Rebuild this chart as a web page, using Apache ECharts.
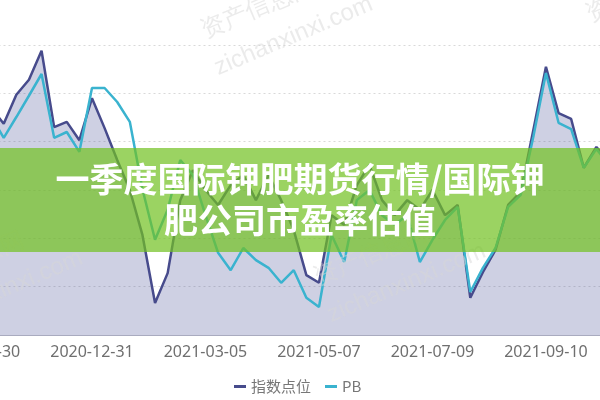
<!DOCTYPE html>
<html><head><meta charset="utf-8">
<script src="https://cdn.jsdelivr.net/npm/echarts@6/dist/echarts.min.js"></script>
<style>html,body{margin:0;padding:0;background:#fff}#c{width:600px;height:400px}</style>
</head><body><div id="c"></div>
<script>
const dates = ['2020-10-30','2020-11-06','2020-11-13','2020-11-20','2020-11-27','2020-12-04','2020-12-11','2020-12-18','2020-12-25','2020-12-31',
  '2021-01-08','2021-01-15','2021-01-22','2021-01-29','2021-02-05','2021-02-10','2021-02-19','2021-02-26','2021-03-05',
  '2021-03-12','2021-03-19','2021-03-26','2021-04-02','2021-04-09','2021-04-16','2021-04-23','2021-04-30','2021-05-07',
  '2021-05-14','2021-05-21','2021-05-28','2021-06-04','2021-06-11','2021-06-18','2021-06-25','2021-07-02','2021-07-09',
  '2021-07-16','2021-07-23','2021-07-30','2021-08-06','2021-08-13','2021-08-20','2021-08-27','2021-09-03','2021-09-10',
  '2021-09-17','2021-09-24','2021-09-30','2021-10-08','2021-10-15'];
const indexPoints = [45.5,47.0,43.7,49.7,52.8,58.8,43.0,44.1,40.3,49.0,
  42.8,36.2,30.0,20.7,6.6,12.8,27.9,34.1,30.0,
  26.9,31.0,33.1,27.9,33.1,27.9,21.7,12.4,10.8,
  24.8,22.8,31.0,35.2,27.9,24.8,27.9,25.9,30.0,
  24.8,26.9,7.7,13.0,17.6,26.9,29.6,42.4,55.5,
  45.9,44.7,34.6,38.9,35.8];
const pbValues = [44.5,45.3,40.8,45.1,49.5,54.0,40.8,42.0,37.9,51.1,
  51.1,48.2,44.1,30.2,19.7,25.9,36.2,33.1,24.8,
  17.0,13.4,18.0,15.5,13.9,10.8,13.4,7.7,5.8,
  20.7,15.1,27.9,30.0,24.8,22.8,24.8,15.1,19.7,
  23.8,26.5,8.9,13.9,18.0,26.5,29.0,41.0,54.2,
  43.9,42.6,34.6,38.5,35.2];
const seriesNames = ['指数点位', 'PB'];
const titleLines = ['一季度国际钾肥期货行情/国际钾', '肥公司市盈率估值'];
const watermarkCn = '资产信息网';
const watermarkEn = 'zichanxinxi.com';

const chart = echarts.init(document.getElementById('c'), null, {renderer: 'canvas'});
const wmStyle = {fill: 'rgba(215,215,215,0.5)', font: '24px "Liberation Sans", sans-serif'};
function wm(x, y) {
  return [
    {type: 'text', x: x, y: y, rotation: 0.4, z: 50, style: Object.assign({text: watermarkCn}, wmStyle)},
    {type: 'text', x: x + 13, y: y + 37, rotation: 0.4, z: 50, style: Object.assign({text: watermarkEn}, wmStyle)}
  ];
}
chart.setOption({
  animation: false,
  grid: {left: -21.5, right: -9, top: 45, bottom: 65, containLabel: false, outerBoundsMode: 'none'},
  legend: {
    data: seriesNames, top: 374, left: 229, itemGap: 14, itemWidth: 12, itemHeight: 3, icon: 'rect',
    textStyle: {color: '#777', fontSize: 15, fontFamily: '"Noto Sans CJK SC", sans-serif'}
  },
  xAxis: {
    type: 'category', data: dates, boundaryGap: false,
    axisLine: {lineStyle: {color: '#a9abbf', width: 1}},
    axisTick: {show: false},
    axisLabel: {interval: 8, color: '#6f6f6f', fontSize: 16, fontFamily: '"Noto Sans", sans-serif', margin: 9}
  },
  yAxis: {
    type: 'value', min: 0, max: 60, interval: 10,
    axisLabel: {show: false}, axisLine: {show: false}, axisTick: {show: false},
    splitLine: {lineStyle: {color: '#d9d9d9', type: [2, 3], width: 1}}
  },
  series: [
    {name: seriesNames[0], type: 'line', data: indexPoints, symbol: 'none', z: 2,
     lineStyle: {color: '#474b8c', width: 2.5}, itemStyle: {color: '#474b8c'},
     areaStyle: {color: 'rgba(71,80,150,0.38)'}},
    {name: seriesNames[1], type: 'line', data: pbValues, symbol: 'none', z: 3,
     lineStyle: {color: '#3ab3cf', width: 2.5}, itemStyle: {color: '#3ab3cf'}}
  ],
  graphic: [
    ...wm(-182, 28), ...wm(198, 21), ...wm(-92, 275), ...wm(311, 268), ...wm(583, 5),
    {type: 'rect', z: 100, shape: {x: 0, y: 148, width: 600, height: 104}, style: {fill: 'rgba(114,193,34,0.71)'}},
    {type: 'text', z: 101, x: 300, y: 200, style: {
      text: titleLines.join('\n'), fill: '#fff', align: 'center', verticalAlign: 'middle',
      font: 'bold 34px "Noto Sans CJK SC", sans-serif', lineHeight: 41}}
  ]
});
</script></body></html>
